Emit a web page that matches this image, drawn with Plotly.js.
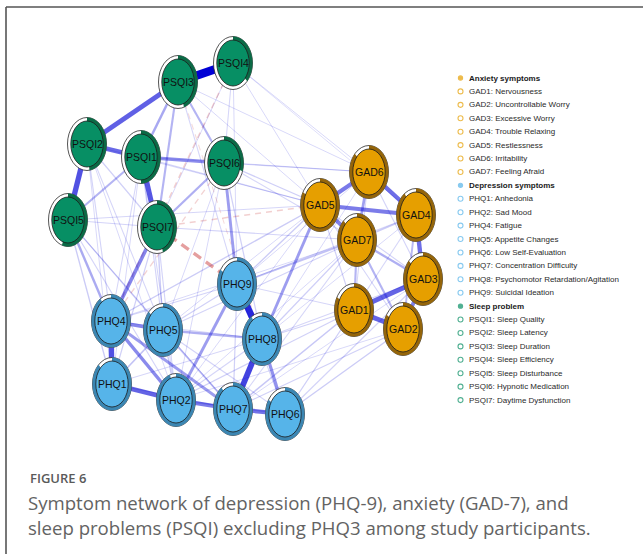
<!DOCTYPE html>
<html>
<head>
<meta charset="utf-8">
<script src="https://cdn.plot.ly/plotly-3.0.1.min.js"></script>
<style>
  html, body { margin: 0; padding: 0; background: #ffffff; }
  #chart { width: 643px; height: 554px; }
</style>
</head>
<body>
<div id="chart"></div>
<script>
// ---- Symptom nodes (legend order) ----
const nodeIds = ['GAD1','GAD2','GAD3','GAD4','GAD5','GAD6','GAD7',
  'PHQ1','PHQ2','PHQ4','PHQ5','PHQ6','PHQ7','PHQ8','PHQ9',
  'PSQI1','PSQI2','PSQI3','PSQI4','PSQI5','PSQI6','PSQI7'];
const nodeGroup = [0,0,0,0,0,0,0, 1,1,1,1,1,1,1,1, 2,2,2,2,2,2,2];
const nodeDescription = ['Nervousness','Uncontrollable Worry','Excessive Worry','Trouble Relaxing',
  'Restlessness','Irritability','Feeling Afraid',
  'Anhedonia','Sad Mood','Fatigue','Appetite Changes','Low Self-Evaluation',
  'Concentration Difficulty','Psychomotor Retardation/Agitation','Suicidal Ideation',
  'Sleep Quality','Sleep Latency','Sleep Duration','Sleep Efficiency','Sleep Disturbance',
  'Hypnotic Medication','Daytime Dysfunction'];
// node predictability (share of the ring filled, clockwise from the top)
const predictability = [0.83,0.84,0.87,0.90,0.83,0.87,0.88,
  0.88,0.95,0.91,0.87,0.84,0.90,0.91,0.84,
  0.50,0.48,0.45,0.37,0.55,0.30,0.45];

// ---- Spring layout of the network (plot coordinates) ----
const layoutX = [354,403,423,416,320,369,357, 112,176,111,163,285,233,262,237, 141,87,178,233,68,224,157];
const layoutY = [310,329,279,215,205,172,240, 384,400,321,330,414,409,339,284, 157,144,82,63,220,163,227];

// ---- Groups ----
const groupNames  = ['Anxiety symptoms','Depression symptoms','Sleep problem'];
const groupFill   = ['#E69F00','#56B4E9','#078f64'];
const groupRing   = ['#94650a','#3b86b2','#0b6a46'];

// ---- Partial-correlation edges [from, to, weight] (negative = dashed red) ----
const edges = [
  ['PSQI3','PSQI4',1.00], ['PSQI2','PSQI5',0.62], ['PSQI1','PSQI7',0.60], ['PSQI2','PSQI3',0.56],
  ['PSQI1','PSQI2',0.52], ['PSQI1','PSQI6',0.36], ['PSQI1','PSQI3',0.25], ['PSQI3','PSQI7',0.20],
  ['PSQI3','PSQI6',0.20], ['PSQI6','PSQI7',0.22], ['PSQI1','PSQI5',0.20], ['PSQI4','PSQI6',0.06],
  ['PSQI2','PSQI7',0.08], ['PSQI5','PSQI7',0.07], ['PSQI4','PSQI7',0.05],
  ['PHQ8','PHQ9',0.80], ['PHQ7','PHQ8',0.68], ['PHQ1','PHQ4',0.62], ['PHQ1','PHQ2',0.54],
  ['PHQ6','PHQ7',0.48], ['PHQ2','PHQ7',0.44], ['PHQ4','PHQ5',0.40], ['PHQ2','PHQ4',0.38],
  ['PHQ6','PHQ8',0.34], ['PHQ4','PHQ7',0.30], ['PHQ2','PHQ9',0.30], ['PHQ5','PHQ8',0.22],
  ['PHQ5','PHQ7',0.16], ['PHQ1','PHQ5',0.14], ['PHQ1','PHQ7',0.08], ['PHQ2','PHQ5',0.10],
  ['PHQ5','PHQ9',0.08], ['PHQ4','PHQ9',0.07], ['PHQ2','PHQ6',0.09], ['PHQ7','PHQ9',0.08],
  ['PHQ6','PHQ9',0.06], ['PHQ1','PHQ8',0.06], ['PHQ4','PHQ8',0.06], ['PHQ5','PHQ6',0.07],
  ['PHQ2','PHQ8',0.06],
  ['GAD1','GAD3',0.54], ['GAD1','GAD2',0.54], ['GAD3','GAD4',0.50], ['GAD4','GAD6',0.50],
  ['GAD5','GAD6',0.45], ['GAD4','GAD5',0.44], ['GAD5','GAD7',0.42], ['GAD2','GAD3',0.42],
  ['GAD6','GAD7',0.28], ['GAD3','GAD7',0.22], ['GAD1','GAD7',0.20], ['GAD2','GAD7',0.20],
  ['GAD2','GAD4',0.18], ['GAD3','GAD5',0.07], ['GAD1','GAD5',0.08], ['GAD2','GAD5',0.06],
  ['GAD3','GAD6',0.07], ['GAD1','GAD6',0.06], ['GAD4','GAD7',0.10], ['GAD1','GAD4',0.06],
  ['PSQI7','PHQ4',0.40], ['PSQI6','PHQ9',0.30], ['GAD5','PHQ8',0.30], ['PSQI5','PHQ4',0.24],
  ['GAD7','PHQ9',0.14], ['GAD5','PHQ9',0.10], ['GAD1','PHQ7',0.12], ['GAD2','PHQ6',0.10],
  ['GAD1','PHQ6',0.09], ['GAD1','PHQ2',0.08], ['GAD2','PHQ7',0.08], ['GAD3','PHQ6',0.07],
  ['GAD1','PHQ8',0.08], ['GAD7','PHQ8',0.09], ['GAD3','PHQ8',0.06], ['GAD4','PHQ9',0.06],
  ['GAD6','PHQ9',0.05], ['GAD5','PHQ4',0.10], ['GAD7','PHQ5',0.07], ['GAD1','PHQ9',0.06],
  ['GAD3','PHQ7',0.05], ['GAD2','PHQ2',0.05], ['GAD5','PHQ2',0.05], ['GAD5','PHQ5',0.05],
  ['GAD6','PHQ8',0.05], ['GAD4','PHQ8',0.05], ['GAD7','PHQ7',0.06], ['GAD7','PHQ2',0.05],
  ['GAD7','PHQ4',0.05],
  ['PSQI5','PHQ1',0.10], ['PSQI5','PHQ5',0.08], ['PSQI5','PHQ2',0.07], ['PSQI5','PHQ7',0.06],
  ['PSQI2','PHQ4',0.07], ['PSQI2','PHQ5',0.06], ['PSQI1','PHQ5',0.07], ['PSQI1','PHQ2',0.06],
  ['PSQI2','PHQ1',0.05], ['PSQI2','PHQ2',0.05], ['PSQI1','PHQ4',0.06], ['PSQI1','PHQ1',0.05],
  ['PSQI7','PHQ5',0.10], ['PSQI7','PHQ1',0.08], ['PSQI7','PHQ2',0.07], ['PSQI6','PHQ8',0.08],
  ['PSQI6','PHQ5',0.05], ['PSQI6','PHQ2',0.05], ['PSQI4','PHQ9',0.05],
  ['PSQI5','GAD5',0.06], ['PSQI2','GAD5',0.05], ['PSQI1','GAD5',0.07], ['PSQI1','GAD6',0.05],
  ['PSQI6','GAD5',0.09], ['PSQI6','GAD6',0.07], ['PSQI6','GAD7',0.06], ['PSQI4','GAD6',0.05],
  ['PSQI3','GAD6',0.05], ['PSQI7','GAD7',0.07], ['PSQI3','PHQ9',0.06], ['PSQI4','GAD5',0.05],
  ['PSQI3','GAD5',0.05], ['PSQI4','GAD4',0.04],
  ['PSQI7','PHQ9',-0.36], ['PSQI7','GAD5',-0.12], ['PSQI4','PHQ4',-0.12], ['PSQI6','PHQ4',-0.10],
  ['PSQI3','PHQ8',-0.06]
];

// ---- Caption ----
const captionLabel = 'FIGURE 6';
const captionLines = ['Symptom network of depression (PHQ-9), anxiety (GAD-7), and',
  'sleep problems (PSQI) excluding PHQ3 among study participants.'];

// ---------------------------------------------------------------
const W = 643, H = 554;
const FONT = '"Liberation Sans", Arial, sans-serif';
const idx = Object.fromEntries(nodeIds.map((n, i) => [n, i]));

// node geometry (outer ring and inner disc, elliptical)
const RX = 19.5, RY = 26.5, IRX = 16.2, IRY = 23.0;

const traces = [];

// edges: weakest first so strong ones sit on top
const sorted = edges.slice().sort((a, b) => Math.abs(a[2]) - Math.abs(b[2]));
sorted.forEach(([a, b, w]) => {
  const s = Math.abs(w);
  const alpha = Math.min(1, 0.11 + 0.92 * s);
  const neg = w < 0;
  const color = neg ? `rgba(186,0,0,${alpha * 0.85})` : `rgba(0,0,213,${alpha})`;
  traces.push({
    type: 'scatter', mode: 'lines', hoverinfo: 'skip',
    x: [layoutX[idx[a]], layoutX[idx[b]]],
    y: [layoutY[idx[a]], layoutY[idx[b]]],
    line: { color, width: 0.6 + 7.6 * s, dash: neg ? (s > 0.2 ? '9px,6px' : '6px,5px') : 'solid' }
  });
});

// node shapes
const shapes = [];
nodeIds.forEach((id, i) => {
  const cx = layoutX[i], cy = layoutY[i], g = nodeGroup[i];
  shapes.push({ type: 'circle', xref: 'x', yref: 'y', x0: cx - RX, x1: cx + RX, y0: cy - RY, y1: cy + RY,
    fillcolor: '#ffffff', line: { color: '#2a2a2a', width: 0.8 } });
  // predictability wedge, clockwise from 12 o'clock
  const end = 2 * Math.PI * predictability[i];
  const n = 60;
  let p = `M ${cx},${cy}`;
  for (let k = 0; k <= n; k++) {
    const t = end * k / n;
    p += ` L ${(cx + RX * Math.sin(t)).toFixed(2)},${(cy - RY * Math.cos(t)).toFixed(2)}`;
  }
  p += ' Z';
  shapes.push({ type: 'path', xref: 'x', yref: 'y', path: p, fillcolor: groupRing[g], line: { width: 0 } });
  shapes.push({ type: 'circle', xref: 'x', yref: 'y', x0: cx - IRX, x1: cx + IRX, y0: cy - IRY, y1: cy + IRY,
    fillcolor: groupFill[g], line: { color: '#1c1c1c', width: 0.8 } });
});

// figure frame (top and left rule)
shapes.push({ type: 'line', xref: 'paper', yref: 'paper', x0: 6 / W, x1: 1, y0: 1 - 7 / H, y1: 1 - 7 / H,
  line: { color: '#555555', width: 1.6 } });
shapes.push({ type: 'line', xref: 'paper', yref: 'paper', x0: 6 / W, x1: 6 / W, y0: 1 - 7 / H, y1: 0,
  line: { color: '#555555', width: 1.6 } });

const annotations = [];
// node labels
nodeIds.forEach((id, i) => {
  annotations.push({ x: layoutX[i], y: layoutY[i], xref: 'x', yref: 'y', text: id, showarrow: false,
    xanchor: 'center', yanchor: 'middle', font: { family: FONT, size: 10.5, color: '#111111' } });
});

// legend: group heading rows followed by their symptoms
const LX = 460.5, TX = 467, LY0 = 78, LDY = 13.42;
const legX = [], legY = [], legSym = [], legCol = [], legSize = [];
let row = 0;
groupNames.forEach((gname, g) => {
  const y = LY0 + row * LDY;
  legX.push(LX); legY.push(y); legSym.push('circle'); legCol.push(groupFill[g]); legSize.push(4.2);
  annotations.push({ x: TX, y, xref: 'x', yref: 'y', text: '<b>' + gname + '</b>', showarrow: false,
    xanchor: 'left', yanchor: 'middle', font: { family: FONT, size: 8, color: '#1a1a1a' } });
  row++;
  nodeIds.forEach((id, i) => {
    if (nodeGroup[i] !== g) return;
    const yy = LY0 + row * LDY;
    legX.push(LX); legY.push(yy); legSym.push('circle-open'); legCol.push(groupFill[g]); legSize.push(5);
    annotations.push({ x: TX, y: yy, xref: 'x', yref: 'y', text: id + ': ' + nodeDescription[i],
      showarrow: false, xanchor: 'left', yanchor: 'middle', font: { family: FONT, size: 8, color: '#2a2a2a' } });
    row++;
  });
});
traces.push({ type: 'scatter', mode: 'markers', hoverinfo: 'skip', x: legX, y: legY,
  marker: { symbol: legSym, color: legCol, size: legSize, line: { color: legCol, width: 1.1 } } });

// caption
annotations.push({ x: 28 / W, y: 1 - 478 / H, xref: 'paper', yref: 'paper', text: captionLabel,
  showarrow: false, xanchor: 'left', yanchor: 'middle',
  font: { family: '"Open Sans", sans-serif', size: 13, weight: 600, color: '#5a5a5a' } });
captionLines.forEach((t, k) => {
  annotations.push({ x: 26 / W, y: 1 - (502 + 25 * k) / H, xref: 'paper', yref: 'paper', text: t,
    showarrow: false, xanchor: 'left', yanchor: 'middle',
    font: { family: '"Open Sans", sans-serif', size: 18.6, color: '#636363' } });
});

const layout = {
  width: W, height: H, margin: { l: 0, r: 0, t: 0, b: 0 },
  paper_bgcolor: '#ffffff', plot_bgcolor: '#ffffff', showlegend: false,
  xaxis: { range: [0, W], visible: false, fixedrange: true },
  yaxis: { range: [H, 0], visible: false, fixedrange: true },
  shapes, annotations
};

Plotly.newPlot('chart', traces, layout, { staticPlot: true, displayModeBar: false });
</script>
</body>
</html>
